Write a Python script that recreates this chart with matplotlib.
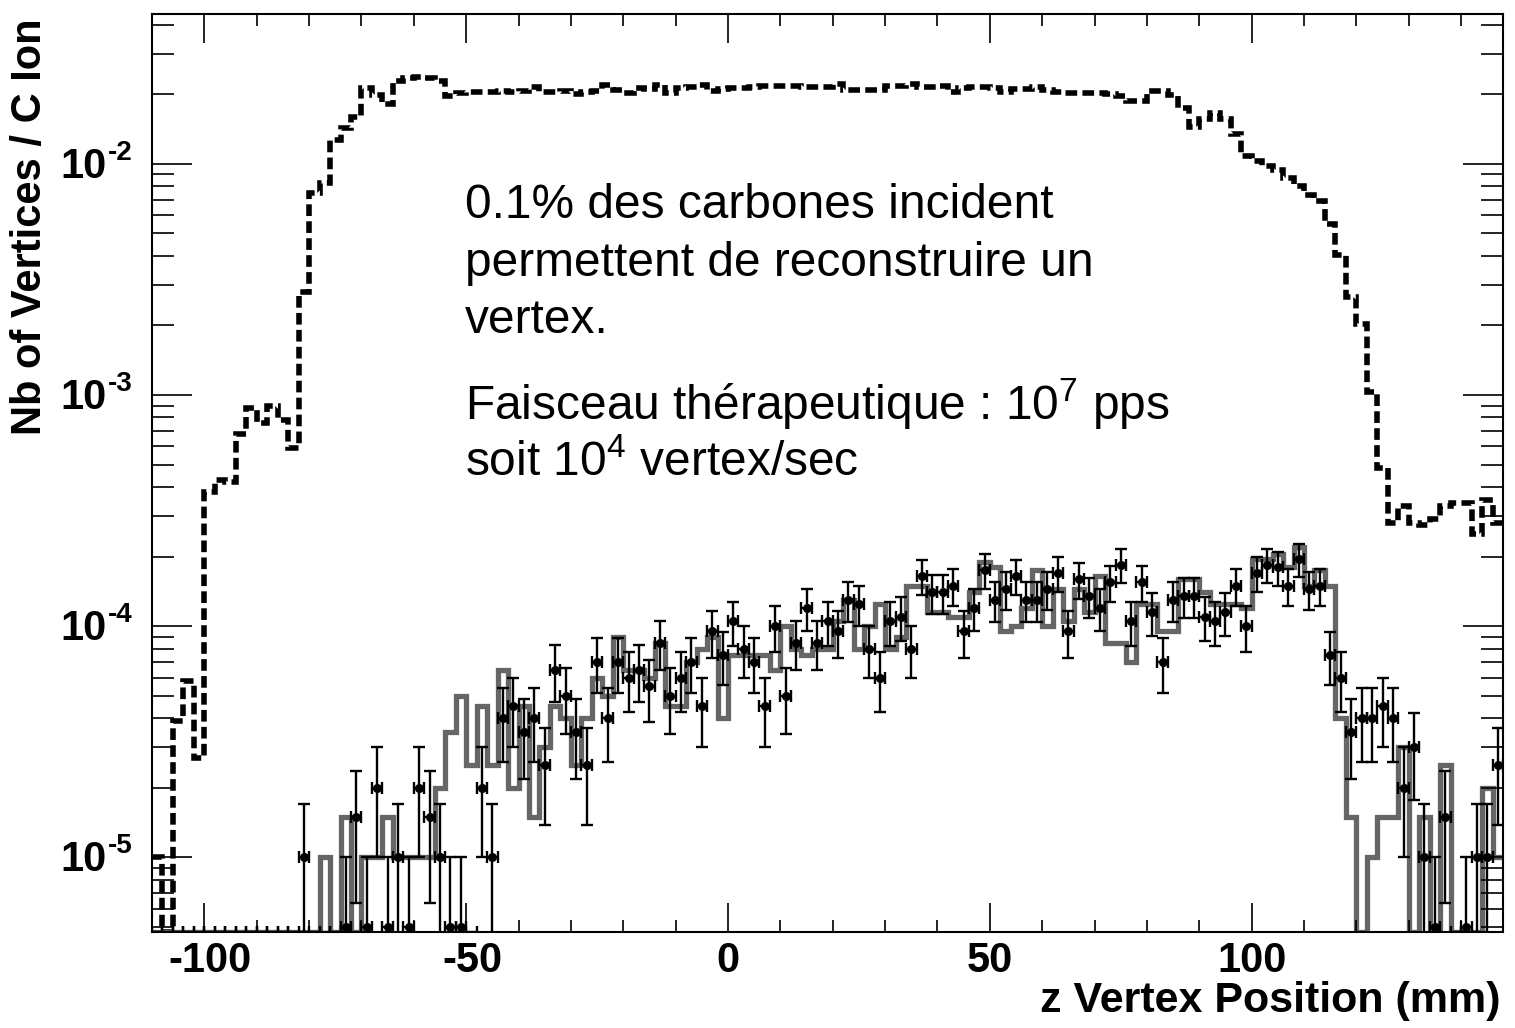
import numpy as np
import matplotlib
matplotlib.use("Agg")
import matplotlib.pyplot as plt
from matplotlib.ticker import FixedLocator, NullFormatter
from matplotlib.transforms import blended_transform_factory, ScaledTranslation

plt.rcParams['font.family'] = ['Liberation Sans', 'DejaVu Sans']
plt.rcParams['mathtext.fontset'] = 'custom'
plt.rcParams['mathtext.rm'] = 'Liberation Sans'
plt.rcParams['mathtext.it'] = 'Liberation Sans:italic'
plt.rcParams['mathtext.bf'] = 'Liberation Sans:bold'

# 2 mm bins along z
z_lo, z_hi, bin_w = -110, 148, 2
edges = np.arange(z_lo, z_hi + bin_w, bin_w)
centers = edges[:-1] + bin_w / 2

# one vertex count corresponds to this many vertices per incident ion
count_scale = 5e-6

# all reconstructed vertices / C ion (dashed)
all_vertices = np.array([
    1.0e-5, 0.0, 3.9e-5, 5.8e-5, 2.7e-5, 3.8e-4, 4.3e-4, 4.2e-4, 6.8e-4, 8.8e-4,
    7.6e-4, 9.0e-4, 7.8e-4, 5.9e-4, 2.8e-3, 7.5e-3, 8.3e-3, 1.27e-2, 1.43e-2, 1.6e-2,
    2.13e-2, 1.98e-2, 1.82e-2, 2.28e-2, 2.35e-2, 2.37e-2, 2.35e-2, 2.28e-2, 1.97e-2, 2.03e-2,
    2.05e-2, 2.05e-2, 2.05e-2, 2.06e-2, 2.04e-2, 2.07e-2, 2.15e-2, 2.04e-2, 2.05e-2, 2.07e-2,
    2.0e-2, 2.05e-2, 2.06e-2, 2.2e-2, 2.08e-2, 2.03e-2, 2.12e-2, 2.1e-2, 2.19e-2, 2.03e-2,
    2.14e-2, 2.16e-2, 2.2e-2, 2.07e-2, 2.11e-2, 2.12e-2, 2.14e-2, 2.16e-2, 2.17e-2, 2.17e-2,
    2.17e-2, 2.17e-2, 2.15e-2, 2.15e-2, 2.15e-2, 2.21e-2, 2.09e-2, 2.09e-2, 2.09e-2, 2.09e-2,
    2.17e-2, 2.17e-2, 2.21e-2, 2.15e-2, 2.15e-2, 2.18e-2, 2.05e-2, 2.14e-2, 2.15e-2, 2.15e-2,
    2.12e-2, 2.05e-2, 2.11e-2, 2.11e-2, 2.15e-2, 2.09e-2, 2.05e-2, 2.03e-2, 2.03e-2, 2.03e-2,
    2.03e-2, 2.0e-2, 1.96e-2, 1.88e-2, 1.87e-2, 2.07e-2, 2.07e-2, 1.98e-2, 1.75e-2, 1.44e-2,
    1.56e-2, 1.66e-2, 1.56e-2, 1.35e-2, 1.085e-2, 1.03e-2, 9.8e-3, 9.4e-3, 8.7e-3, 8.0e-3,
    7.3e-3, 6.9e-3, 5.5e-3, 4.05e-3, 2.65e-3, 2.04e-3, 1.03e-3, 4.85e-4, 2.8e-4, 3.3e-4,
    2.8e-4, 2.75e-4, 2.9e-4, 3.3e-4, 3.4e-4, 3.4e-4, 2.5e-4, 3.5e-4, 2.8e-4,
])

# simulated vertex counts (grey line)
sim_counts = np.array([
    0, 0, 0, 0, 0, 0, 0, 0, 0, 0,
    0, 0, 0, 0, 0, 0, 2, 0, 3, 0,
    2, 2, 3, 2, 2, 2, 2, 4, 7, 10,
    5, 9, 5, 13, 4, 9, 3, 6, 9, 8,
    5, 8, 12, 10, 18, 13, 13, 12, 17, 9,
    9, 14, 16, 18, 8, 15, 15, 15, 15, 13,
    20, 16, 15, 16, 16, 21, 26, 16, 20, 25,
    16, 18, 30, 30, 23, 23, 22, 22, 28, 38,
    36, 19, 20, 24, 35, 20, 29, 21, 29, 23,
    33, 17, 17, 14, 25, 25, 19, 19, 32, 32,
    28, 25, 25, 25, 24, 39, 39, 41, 36, 44,
    30, 35, 30, 8, 3, 0, 2, 3, 3, 6,
    0, 3, 0, 5, 0, 0, 0, 4, 2,
])

# measured vertex counts (points)
data_counts = np.array([
    0, 0, 0, 0, 0, 0, 0, 0, 0, 0,
    0, 0, 0, 0, 2, 0, 0, 0, 1, 3,
    1, 4, 1, 2, 1, 4, 3, 2, 1, 1,
    0, 4, 2, 8, 9, 7, 8, 5, 13, 10,
    7, 5, 14, 8, 14, 12, 13, 11, 17, 10,
    12, 14, 9, 19, 15, 21, 16, 14, 9, 20,
    10, 17, 24, 17, 21, 19, 26, 25, 16, 12,
    21, 22, 16, 33, 28, 28, 30, 19, 24, 35,
    26, 29, 33, 26, 26, 29, 34, 19, 32, 27,
    24, 31, 37, 21, 31, 23, 14, 26, 27, 27,
    22, 21, 23, 30, 20, 34, 37, 36, 30, 39,
    29, 30, 15, 12, 7, 8, 8, 9, 8, 4,
    6, 2, 1, 3, 0, 1, 2, 2, 5,
])

x_ticks = [-100, -50, 0, 50, 100]
decades = [1e-5, 1e-4, 1e-3, 1e-2]
ymin, ymax = 4.76e-6, 0.0445

fig = plt.figure(figsize=(15.15, 10.28), dpi=100)
ax = fig.add_axes([152 / 1515, 1 - 932 / 1028, (1503 - 152) / 1515, (932 - 14) / 1028])
ax.set_yscale('log')
ax.set_xlim(z_lo, z_hi)
ax.set_ylim(ymin, ymax)


def on_floor(values):
    # empty bins sit on the lower frame
    values = np.asarray(values, dtype=float)
    return np.where(values > 0, values, ymin)


ax.stairs(on_floor(all_vertices), edges, baseline=None, color='black',
          linewidth=4.0, linestyle=(0, (2.1, 0.95)))

sim = sim_counts * count_scale
ax.stairs(on_floor(sim), edges, baseline=None, color='#666666', linewidth=3.8)

filled = data_counts > 0
y = data_counts * count_scale
err = np.sqrt(data_counts) * count_scale
err_lo = np.minimum(err, y - 1e-9)
ax.errorbar(centers[filled], y[filled], xerr=bin_w / 2,
            yerr=[err_lo[filled], err[filled]], fmt='o', ms=5.5,
            color='black', elinewidth=1.7, capsize=4.0, capthick=1.7)
ax.errorbar(centers[~filled], np.full((~filled).sum(), ymin), xerr=bin_w / 2,
            fmt='none', ecolor='black', elinewidth=1.7, capsize=4.0, capthick=1.7)

# ticks on all four sides, pointing in
ax.xaxis.set_major_locator(FixedLocator(x_ticks))
ax.xaxis.set_minor_locator(FixedLocator(np.arange(-110, 150, 10)))
ax.yaxis.set_major_locator(FixedLocator(decades))
minors = [m * d for d in [1e-6, 1e-5, 1e-4, 1e-3, 1e-2] for m in range(2, 10)]
ax.yaxis.set_minor_locator(FixedLocator(minors))
ax.xaxis.set_major_formatter(NullFormatter())
ax.yaxis.set_major_formatter(NullFormatter())
ax.yaxis.set_minor_formatter(NullFormatter())
ax.tick_params(axis='x', which='major', direction='in', length=21, width=1.2, top=True)
ax.tick_params(axis='x', which='minor', direction='in', length=8.5, width=1.2, top=True)
ax.tick_params(axis='y', which='major', direction='in', length=29, width=1.2, right=True)
ax.tick_params(axis='y', which='minor', direction='in', length=15.5, width=1.2, right=True)
for s in ax.spines.values():
    s.set_linewidth(1.5)

# tick labels drawn by hand: hyphen minus, small raised exponent
px = fig.dpi_scale_trans
x_lab_tr = blended_transform_factory(ax.transData, ax.transAxes)
for v in x_ticks:
    shift = 6 / 100 if v < 0 else 0
    ax.text(v, -0.010, str(v), transform=x_lab_tr + ScaledTranslation(shift, 0, px),
            ha='center', va='top', fontsize=30, fontweight='bold')

y_lab_tr = blended_transform_factory(fig.transFigure, ax.transData)
for d in decades:
    k = int(round(-np.log10(d)))
    fig.text(107 / 1515, d, '10', transform=y_lab_tr + ScaledTranslation(0, -3 / 100, px),
             ha='right', va='center', fontsize=30, fontweight='bold')
    fig.text(108 / 1515, d, '-%d' % k, transform=y_lab_tr + ScaledTranslation(0, 11 / 100, px),
             ha='left', va='center', fontsize=20, fontweight='bold')

fig.text(1500 / 1515, 1 - 1001 / 1028, 'z Vertex Position (mm)', ha='right', va='center',
         fontsize=31, fontweight='bold')
fig.text(30 / 1515, 1 - 18 / 1028, 'Nb of Vertices / C Ion', ha='center', va='top',
         rotation=90, fontsize=30, fontweight='bold')

# annotation
note_lines = [
    (218, '0.1% des carbones incident'),
    (276, 'permettent de reconstruire un'),
    (333, 'vertex.'),
    (420, 'Faisceau thérapeutique : 10$^{7}$ pps'),
    (476, 'soit 10$^{4}$ vertex/sec'),
]
for ypix, line in note_lines:
    fig.text(465 / 1515, 1 - ypix / 1028, line, ha='left', va='baseline', fontsize=34.5)

fig.savefig('out.png', dpi=100)
